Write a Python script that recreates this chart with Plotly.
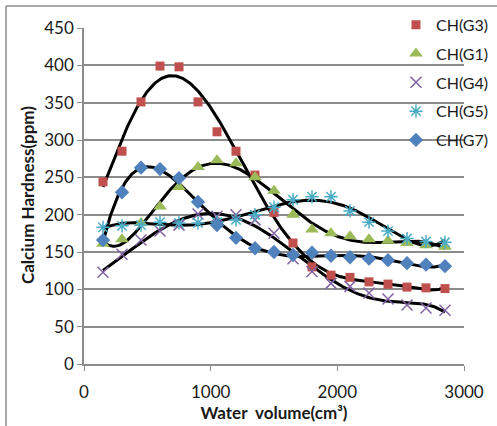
import numpy as np
import plotly.graph_objects as go

water_volume = [150, 300, 450, 600, 750, 900, 1050, 1200, 1350, 1500, 1650, 1800, 1950, 2100, 2250, 2400, 2550, 2700, 2850]

ch_g3 = [244, 285, 351, 399, 398, 351, 311, 285, 253, 203, 162, 130, 119, 116, 110, 107, 103, 102, 101]
ch_g1 = [161, 167, 189, 211, 237, 264, 273, 269, 250, 232, 200, 180, 175, 171, 167, 165, 162, 159, 157]
ch_g4 = [123, 147, 166, 178, 186, 201, 198, 200, 193, 175, 141, 124, 108, 104, 95, 87, 79, 75, 72]
ch_g5 = [183, 185, 186, 190, 189, 189, 190, 193, 200, 210, 220, 224, 224, 205, 190, 178, 168, 164, 163]
ch_g7 = [166, 230, 263, 261, 249, 217, 186, 169, 155, 150, 146, 149, 145, 143, 141, 139, 135, 133, 131]

series = [
    ("CH(G3)", ch_g3, dict(symbol="square", color="#C0504D", size=9)),
    ("CH(G1)", ch_g1, dict(symbol="triangle-up", color="#9BBB59", size=12)),
    ("CH(G4)", ch_g4, dict(symbol="x-thin", color="#8064A2", size=11, line=dict(color="#8064A2", width=1.5))),
    ("CH(G5)", ch_g5, dict(symbol="asterisk-open", color="#4BACC6", size=11, line=dict(color="#4BACC6", width=1.5))),
    ("CH(G7)", ch_g7, dict(symbol="diamond", color="#4F81BD", size=11)),
]

fig = go.Figure()
xs = np.array(water_volume, dtype=float)
xfine = np.linspace(xs.min(), xs.max(), 300)
# trendlines (order-6 polynomial fits of each series)
for name, vals, mk in series:
    c = np.polyfit(xs / 1000.0, np.array(vals, dtype=float), 6)
    fig.add_trace(go.Scatter(x=xfine, y=np.polyval(c, xfine / 1000.0), mode="lines",
                             line=dict(color="black", width=3), showlegend=False, hoverinfo="skip"))
for i, (name, vals, mk) in enumerate(series):
    fig.add_trace(go.Scatter(x=water_volume, y=vals, mode="markers", name=name, marker=mk,
                             legendgroup=f"g{i}"))

grid = "#8C8C8C"
font = "Lato, 'Liberation Sans', sans-serif"
txt = "#1a1a1a"
fig.update_layout(
    width=497, height=426,
    margin=dict(l=84, r=33, t=28, b=62, autoexpand=False),
    paper_bgcolor="white", plot_bgcolor="white",
    font=dict(family=font, size=17, color=txt),
    showlegend=True,
    legend=dict(x=0.821, y=1.06, xanchor="left", yanchor="top", bgcolor="rgba(0,0,0,0)",
                font=dict(size=16, color=txt), tracegroupgap=5, itemwidth=30),
    xaxis=dict(range=[0, 3000], tickvals=[0, 1000, 2000, 3000], showgrid=False,
               showline=True, linecolor=grid, linewidth=1.5, ticks="outside", ticklen=5,
               tickcolor=grid, zeroline=False, ticklabelstandoff=7,
               title=dict(text="<b>Water  volume(cm³)</b>", font=dict(size=17, color=txt), standoff=2)),
    yaxis=dict(range=[0, 450], tickvals=list(range(0, 451, 50)), showgrid=True, gridcolor=grid,
               gridwidth=1.5, showline=True, linecolor=grid, linewidth=1.5, ticks="outside",
               ticklen=5, tickcolor=grid, zeroline=False),
    annotations=[
        dict(text="<b>Calcium Hardness(ppm)</b>", xref="paper", yref="paper",
             x=(27 - 84) / 380, y=(364 - 195) / 336, xanchor="center", yanchor="middle",
             textangle=-90, showarrow=False, font=dict(size=17, color=txt)),
    ],
    shapes=[
        dict(type="line", xref="paper", yref="paper", x0=-0.2053, x1=-0.2053, y0=-0.2, y1=1.0655,
             line=dict(color=grid, width=1.5)),
        dict(type="line", xref="paper", yref="paper", x0=-0.2053, x1=1.1, y0=1.0655, y1=1.0655,
             line=dict(color=grid, width=1.5)),
    ],
)
fig.write_html("out.html")
